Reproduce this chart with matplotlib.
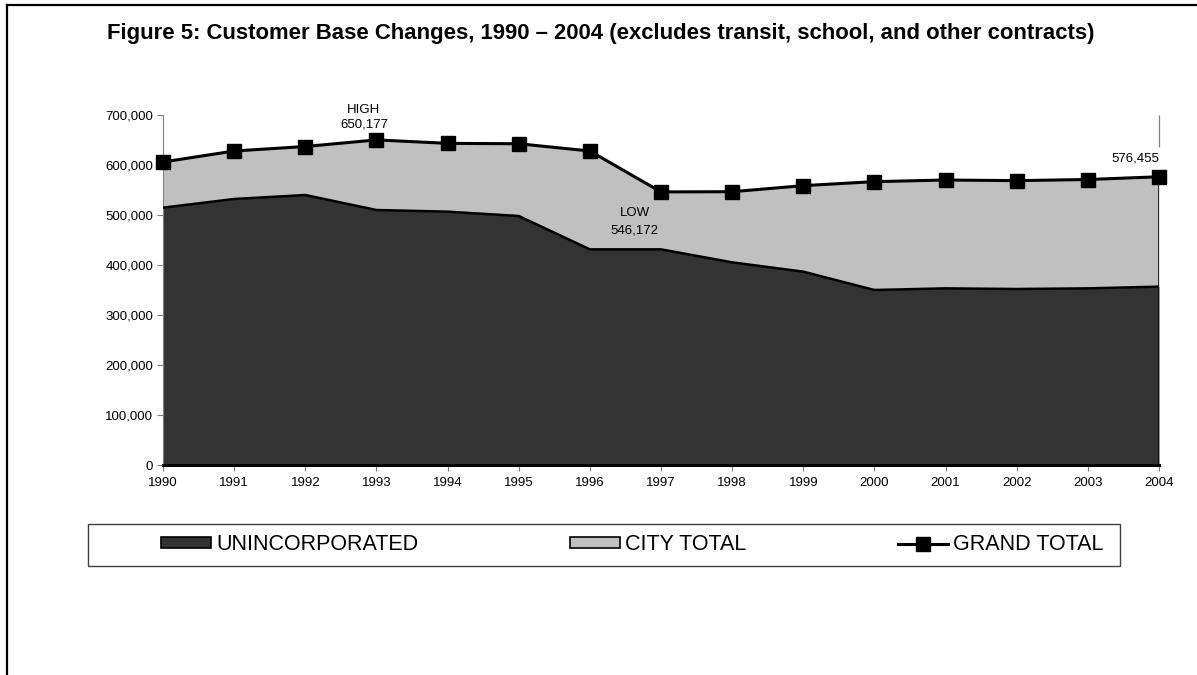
import matplotlib
matplotlib.use("Agg")
import matplotlib.pyplot as plt
from matplotlib.patches import Rectangle
from matplotlib.lines import Line2D
from matplotlib.ticker import FuncFormatter
import numpy as np

plt.rcParams['font.family'] = ['Liberation Sans', 'DejaVu Sans']

# customer counts by year
years = list(range(1990, 2005))
grand_total = [606000, 628000, 637000, 650177, 643300, 642500, 628000, 546172,
               546600, 558700, 566700, 570000, 568700, 571000, 576455]
unincorporated = [514700, 532000, 540000, 510000, 506700, 498000, 431300, 431300,
                  405300, 386700, 350000, 353300, 352000, 353300, 356700]
city_total = [g - u for g, u in zip(grand_total, unincorporated)]

title = "Figure 5: Customer Base Changes, 1990 \u2013 2004 (excludes transit, school, and other contracts)"
legend_labels = ["UNINCORPORATED", "CITY TOTAL", "GRAND TOTAL"]

DARK = "#333333"
LIGHT = "#C0C0C0"
AXIS_GRAY = "#808080"

W, H = 1197, 675
fig = plt.figure(figsize=(W / 100, H / 100), dpi=100)
fig.patch.set_facecolor("white")

# page border (left and top edges only)
fig.add_artist(Line2D([6.5 / W, 6.5 / W], [0, 1 - 5 / H], transform=fig.transFigure,
                      color="black", lw=1.6))
fig.add_artist(Line2D([6.5 / W, 1], [1 - 5 / H, 1 - 5 / H], transform=fig.transFigure,
                      color="black", lw=1.6))

fig.text(601 / W, 1 - 33 / H, title, ha="center", va="center",
         fontsize=15.9, fontweight="bold")

ax = fig.add_axes([163 / W, (H - 465) / H, 996 / W, 350 / H])

x = np.array(years)
unc = np.array(unincorporated)
tot = unc + np.array(city_total)

ax.fill_between(x, 0, unc, color=DARK, lw=0, zorder=1)
ax.fill_between(x, unc, tot, color=LIGHT, lw=0, zorder=1)
ax.plot(x, unc, color="black", lw=1.8, zorder=3, solid_joinstyle="miter")
ax.plot([x[-1], x[-1]], [0, tot[-1]], color="black", lw=1.8, zorder=3)
ax.plot(x, grand_total, color="black", lw=2.2, marker="s", markersize=9.5,
        zorder=4, clip_on=False)

ax.set_xlim(1990, 2004)
ax.set_ylim(0, 700000)
ax.set_xticks(years)
ax.set_yticks(range(0, 700001, 100000))
ax.yaxis.set_major_formatter(FuncFormatter(lambda v, p: f"{int(v):,}"))
ax.tick_params(axis="y", direction="out", length=4, width=0.8, color=AXIS_GRAY,
               labelsize=9.5, pad=3)
ax.tick_params(axis="x", direction="out", length=4, width=0.8, color=AXIS_GRAY,
               labelsize=9.5, pad=5)

for side in ("top", "right"):
    ax.spines[side].set_visible(False)
ax.spines["left"].set_color(AXIS_GRAY)
ax.spines["left"].set_linewidth(0.8)
ax.spines["bottom"].set_color("black")
ax.spines["bottom"].set_linewidth(2.2)
ax.spines["bottom"].set_zorder(5)

# high / low / latest labels
i_hi = int(np.argmax(grand_total))
i_lo = int(np.argmin(grand_total))
ax.annotate(f"HIGH\n{grand_total[i_hi]:,}", xy=(years[i_hi], grand_total[i_hi]),
            xytext=(-9, 6.5), textcoords="offset points", ha="center", va="bottom",
            fontsize=9.5, linespacing=1.3)
ax.annotate(f"LOW\n{grand_total[i_lo]:,}", xy=(years[i_lo], grand_total[i_lo]),
            xytext=(-19, -11), textcoords="offset points", ha="center", va="top",
            fontsize=9.5, linespacing=1.55)
ax.annotate(f"{grand_total[-1]:,}", xy=(years[-1], grand_total[-1]),
            xytext=(0, 9), textcoords="offset points", ha="right", va="bottom",
            fontsize=9.5)
ax.vlines(years[-1], 636000, 700000, color=AXIS_GRAY, lw=0.9, clip_on=False)

# legend box
fig.add_artist(Rectangle((88 / W, (H - 566) / H), (1120 - 88) / W, 42 / H,
                         transform=fig.transFigure, facecolor="white",
                         edgecolor="#404040", lw=1.0))
handles = [
    Rectangle((0, 0), 1, 1, facecolor=DARK, edgecolor="black", lw=1.2),
    Rectangle((0, 0), 1, 1, facecolor=LIGHT, edgecolor="black", lw=1.2),
    Line2D([], [], color="black", lw=2.2, marker="s", markersize=9.5),
]
fig.legend(handles, legend_labels, loc="center left",
           bbox_to_anchor=(161 / W, 1 - 545 / H), ncol=3, frameon=False,
           fontsize=15.5, handlelength=2.33, handleheight=0.4, handletextpad=0.23,
           columnspacing=7.05, borderpad=0, borderaxespad=0)

fig.savefig("out.png", dpi=100, facecolor="white")
